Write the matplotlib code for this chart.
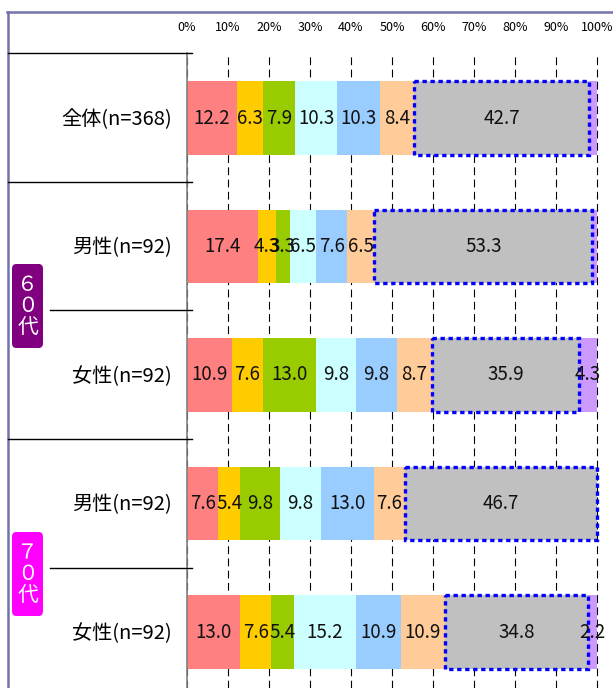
import matplotlib
matplotlib.use("Agg")
import matplotlib.pyplot as plt
from matplotlib.lines import Line2D
from matplotlib.patches import Rectangle, FancyBboxPatch

plt.rcParams['font.family'] = ['Noto Sans CJK JP', 'DejaVu Sans']

# rows top to bottom
row_labels = ['全体(n=368)', '男性(n=92)', '女性(n=92)', '男性(n=92)', '女性(n=92)']

# segment shares (%) per row, left to right
seg1 = [12.2, 17.4, 10.9, 7.6, 13.0]
seg2 = [6.3, 4.3, 7.6, 5.4, 7.6]
seg3 = [7.9, 3.3, 13.0, 9.8, 5.4]
seg4 = [10.3, 6.5, 9.8, 9.8, 15.2]
seg5 = [10.3, 7.6, 9.8, 13.0, 10.9]
seg6 = [8.4, 6.5, 8.7, 7.6, 10.9]
seg7 = [42.7, 53.3, 35.9, 46.7, 34.8]
seg8 = [1.9, 1.1, 4.3, 0.0, 2.2]

segments = [seg1, seg2, seg3, seg4, seg5, seg6, seg7, seg8]
seg_colors = ['#ff8080', '#ffcc00', '#99cc00', '#ccffff',
              '#99ccff', '#ffcc99', '#c0c0c0', '#cc99ff']
boxed_seg = 6  # gray segment gets the dotted frame

groups = ['６\n０\n代', '７\n０\n代']
group_colors = ['#800080', '#ff00ff']

W, H = 613, 688


def fx(px):
    return px / W


def fy(py):
    return 1 - py / H


fig = plt.figure(figsize=(W / 100, H / 100), dpi=100)

# bar area: 0% at x=187, 100% at x=597, top edge under the header line
top_px, pitch, first_center = 53, 128.5, 118
ax = fig.add_axes([fx(187), 0, 410 * 1.02 / W, (H - top_px) / H])
ax.set_xlim(0, 102)
ax.set_ylim((H - first_center) / pitch, (top_px - first_center) / pitch)

bar_h = 0.57
for i in range(len(row_labels)):
    left = 0
    for k, seg in enumerate(segments):
        v = seg[i]
        if v > 0:
            ax.barh(i, v, left=left, height=bar_h, color=seg_colors[k],
                    zorder=2)
            if v >= 2:
                ax.text(left + v / 2, i, f'{v:.1f}', ha='center',
                        va='center', fontsize=13.5, color='#111111',
                        zorder=4)
            if k == boxed_seg:
                ax.add_patch(Rectangle((left, i - bar_h / 2), v, bar_h,
                                       fill=False, edgecolor='#0000ff',
                                       lw=2.4, linestyle=(0, (1.3, 1.1)),
                                       zorder=3, clip_on=False))
        left += v

ax.set_xticks(range(0, 101, 10))
ax.set_xticklabels([f'{t}%' for t in range(0, 101, 10)], fontsize=9)
ax.xaxis.tick_top()
ax.tick_params(axis='x', length=0, pad=14)
ax.set_yticks([])
ax.grid(axis='x', color='black', lw=0.8, linestyle=(0, (7, 4)))
ax.set_axisbelow(True)
for side in ('top', 'right', 'bottom'):
    ax.spines[side].set_visible(False)
ax.spines['left'].set_color('#808080')
ax.spines['left'].set_linewidth(1.2)

# outer frame of the table
frame = '#7474aa'
fig.add_artist(Line2D([fx(7), fx(W)], [fy(12), fy(12)], color=frame, lw=1.8))
fig.add_artist(Line2D([fx(8), fx(8)], [fy(12), fy(H)], color=frame, lw=1.8))

# header line and row separators
for y, x0 in [(53, 8), (182, 8), (310, 50), (439, 8), (568, 50)]:
    fig.add_artist(Line2D([fx(x0), fx(192)], [fy(y), fy(y)],
                          color='black', lw=1))

# row labels
for i, lab in enumerate(row_labels):
    yc = first_center + pitch * i + 1.5
    fig.text(fx(172), fy(yc), lab, ha='right', va='center', fontsize=14.5)

# age group badges
for (y0, y1), txt, col in zip([(264, 348), (532, 616)], groups, group_colors):
    fig.add_artist(FancyBboxPatch((fx(12), fy(y1)), fx(31), (y1 - y0) / H,
                                  boxstyle='round,pad=0,rounding_size=0.007',
                                  fc=col, ec='none', transform=fig.transFigure))
    fig.text(fx(27.5), fy((y0 + y1) / 2), txt, ha='center', va='center',
             color='white', fontsize=15, linespacing=0.95)

fig.savefig('out.png', dpi=100)
